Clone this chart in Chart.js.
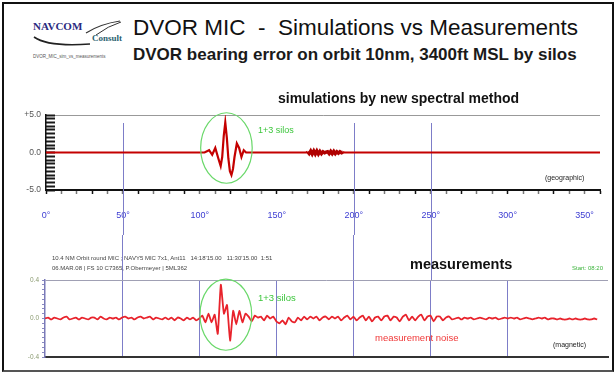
<!DOCTYPE html>
<html>
<head>
<meta charset="utf-8">
<script src="https://cdn.jsdelivr.net/npm/chart.js@4/dist/chart.umd.min.js"></script>
<style>
  html, body { margin: 0; padding: 0; background: #fff; }
  body { width: 616px; height: 382px; position: relative; overflow: hidden;
         font-family: 'Liberation Sans', Arial, sans-serif; }
  #frame { position: absolute; left: 2px; top: 2px; width: 608px; height: 366px;
           border: 2px solid #111; border-bottom-color: #555; }
  canvas { position: absolute; left: 0; }
  .txt { position: absolute; line-height: 1; white-space: pre; z-index: 5; }
</style>
</head>
<body>
<div id="frame"></div>

<!-- logo -->
<svg style="position:absolute;left:0;top:0;z-index:5" width="130" height="70">
  <path d="M34 37 Q48 47 90 44" fill="none" stroke="#222" stroke-width="1.6"/>
  <path d="M86 33 Q100 24 120 21" fill="none" stroke="#333" stroke-width="1.2"/>
  <path d="M96 35 Q108 26 121 22" fill="none" stroke="#333" stroke-width="1"/>
</svg>
<div class="txt" style="left:33px;top:20px;font:bold 11px 'Liberation Serif',serif;color:#2b2b80">NAVCOM</div>
<div class="txt" style="left:92px;top:33px;font:bold 9px 'Liberation Serif',serif;color:#2a5f70">Consult</div>
<div class="txt" style="left:33px;top:55px;font-size:4.5px;color:#555">DVOR_MIC_sim_vs_measurements</div>

<div class="txt" style="left:133px;top:17px;font-size:22.5px;color:#111">DVOR MIC  -  Simulations vs Measurements</div>
<div class="txt" style="left:133px;top:46px;font-size:17px;font-weight:bold;color:#1a1a1a">DVOR bearing error on orbit 10nm, 3400ft MSL by silos</div>
<div class="txt" style="left:278px;top:91px;font-size:14px;font-weight:bold;color:#111">simulations by new spectral method</div>

<canvas id="simChart" width="616" height="135" style="top:100px"></canvas>
<canvas id="measChart" width="616" height="137" style="top:235px"></canvas>

<div class="txt" style="left:258px;top:126px;font-size:9px;color:#3cc63c">1+3 silos</div>
<div class="txt" style="left:545px;top:174px;font-size:7px;color:#222">(geographic)</div>

<div class="txt" style="left:52px;top:255px;font-size:6px;color:#444">10.4 NM Orbit round MIC ; NAVY5 MIC 7x1, Ant11   14:18'15.00   11:30'15.00  1:51</div>
<div class="txt" style="left:52px;top:265px;font-size:6px;color:#444">06.MAR.08 | FS 10 C7365, P.Obermeyer | 5ML362</div>
<div class="txt" style="left:410px;top:257px;font-size:14.5px;font-weight:bold;color:#111">measurements</div>
<div class="txt" style="left:572px;top:265px;font-size:6px;color:#3cb43c">Start: 08:20</div>
<div class="txt" style="left:258px;top:293px;font-size:9.5px;color:#3cc63c">1+3 silos</div>
<div class="txt" style="left:375px;top:333px;font-size:9.5px;color:#f03838">measurement noise</div>
<div class="txt" style="left:553px;top:341px;font-size:7px;color:#222">(magnetic)</div>

<script>
// bearing error from the spectral simulation, degrees of bearing vs orbit angle
const simDeg = [0, 20, 40, 60, 80, 100, 103, 106, 108, 110, 112,
  113.5, 114.5, 115.5, 116.5, 117.5, 118.5, 119.5, 120.5, 121.5, 122.5, 124, 125.5, 127, 128.5, 130,
  133, 140, 160, 169,
  170, 171, 172, 173, 174, 175, 176, 177, 178, 179, 180, 181, 182,
  183, 184, 185, 186, 187, 188, 189, 190, 191, 192, 193,
  194, 220, 260, 300, 340, 360];
const simErr = [0, 0, 0, 0, 0, 0, 0, 0.3, -0.3, 0.6, -0.8,
  -1.8, -0.6, 2.2, 4.0, 2.0, -0.8, -2.5, -3.0, -2.2, -0.6, 1.2, 0.6, -0.6, 0.3, 0,
  0, 0, 0, 0,
  0.1, -0.15, 0.2, -0.2, 0.2, -0.2, 0.2, -0.2, 0.15, -0.15, 0.1, -0.05, 0.05,
  0.1, -0.15, 0.15, -0.15, 0.15, -0.15, 0.1, -0.1, 0.1, -0.05, 0.05,
  0, 0, 0, 0, 0, 0];
// angle span where the simulated trace thickens into a band
const simBandDeg = [169.5, 193.5];

// flight measurement, orbit angle (magnetic) and bearing error
const measDeg = [
  0, 2, 4, 6, 8, 10, 12, 14, 16, 18,
  20, 22, 24, 26, 28, 30, 32, 34, 36, 38,
  40, 42, 44, 46, 48, 50, 52, 54, 56, 58,
  60, 62, 64, 66, 68, 70, 72, 74, 76, 78,
  80, 82, 84, 86, 88, 90, 92, 94, 96, 98,
  100, 102, 104, 106, 108, 110, 112, 114, 116, 118,
  120, 122, 124, 126, 128, 130, 132, 134, 136, 138,
  140, 142, 144, 146, 148, 150, 152, 154, 156, 158,
  160, 162, 164, 166, 168, 170, 172, 174, 176, 178,
  180, 182, 184, 186, 188, 190, 192, 194, 196, 198,
  200, 202, 204, 206, 208, 210, 212, 214, 216, 218,
  220, 222, 224, 226, 228, 230, 232, 234, 236, 238,
  240, 242, 244, 246, 248, 250, 252, 254, 256, 258,
  260, 262, 264, 266, 268, 270, 272, 274, 276, 278,
  280, 282, 284, 286, 288, 290, 292, 294, 296, 298,
  300, 302, 304, 306, 308, 310, 312, 314, 316, 318,
  320, 322, 324, 326, 328, 330, 332, 334, 336, 338,
  340, 342, 344, 346, 348, 350, 352, 354, 356, 358];
const measErr = [
  0.00, 0.01, -0.01, 0.01, 0.00, -0.01, 0.01, 0.02, -0.01, 0.00,
  0.01, -0.01, 0.01, 0.00, -0.01, 0.01, 0.01, -0.01, 0.02, 0.00,
  -0.01, 0.01, 0.00, 0.01, -0.01, 0.01, 0.02, 0.00, 0.01, -0.01,
  0.01, 0.02, 0.00, 0.01, 0.02, -0.01, 0.01, 0.00, -0.01, 0.01,
  -0.01, 0.01, -0.02, 0.01, 0.00, -0.02, 0.01, -0.01, 0.01, -0.02,
  0.00, 0.03, -0.04, 0.05, -0.04, 0.04, -0.16, 0.35, 0.05, 0.14,
  -0.23, 0.08, -0.06, 0.08, -0.04, 0.05, 0.02, -0.03, 0.03, 0.01,
  0.02, -0.02, 0.03, 0.00, 0.02, -0.03, -0.05, -0.02, -0.06, 0.01,
  -0.03, -0.04, 0.01, -0.02, 0.02, -0.01, 0.02, 0.00, 0.02, -0.02,
  0.01, 0.02, -0.01, 0.02, 0.00, 0.02, -0.02, 0.01, 0.03, -0.01,
  0.02, -0.02, 0.01, 0.03, -0.02, 0.02, -0.03, 0.01, 0.02, -0.02,
  0.02, 0.03, -0.02, 0.02, 0.01, -0.03, 0.02, 0.04, -0.02, 0.02,
  -0.02, 0.02, 0.04, -0.02, 0.02, 0.03, -0.03, 0.02, 0.02, -0.02,
  0.01, 0.02, -0.01, 0.00, 0.01, -0.01, 0.01, 0.00, 0.01, -0.01,
  0.00, 0.01, 0.00, -0.01, 0.01, 0.00, 0.01, -0.01, 0.00, 0.01,
  0.00, 0.01, 0.00, 0.01, -0.01, 0.00, 0.01, 0.00, -0.01, 0.00,
  0.01, 0.00, 0.01, -0.01, 0.00, 0.00, -0.01, 0.00, -0.01, -0.01,
  0.00, -0.01, 0.00, -0.01, -0.01, 0.00, -0.01, -0.01, 0.00, -0.01];

// angle labels and the marker lines that run through both panels
const angleLabelStep = 50;
const crossDegrees = [50, 200, 250];

// ring around the silo effect (angle span, error span)
const simRingDeg = [100.5, 134];
const simRingErr = [-4.1, 5.3];
const measRingDeg = [100.5, 134];
const measRingErr = [-0.33, 0.41];

const CLEAR = 'rgba(0,0,0,0)';
const near = (a, b) => Math.abs(a - b) < 1e-6;

Chart.defaults.font.family = "'Liberation Sans', Arial, sans-serif";

const toPoints = (xs, ys) => xs.map((x, i) => ({ x: x, y: ys[i] }));

// vertical marker lines continuing outside the plot area
const crossLines = {
  id: 'crossLines',
  beforeDatasetsDraw(chart, args, opts) {
    const { ctx, chartArea, scales } = chart;
    ctx.save();
    ctx.strokeStyle = opts.color;
    ctx.lineWidth = 1;
    opts.degrees.forEach(d => {
      const x = Math.round(scales.x.getPixelForValue(d)) + 0.5;
      ctx.beginPath();
      if (opts.below) {
        ctx.moveTo(x, chartArea.top + 8);
        ctx.lineTo(x, chart.height);
      } else {
        ctx.moveTo(x, 0);
        ctx.lineTo(x, chartArea.top);
      }
      ctx.stroke();
    });
    ctx.restore();
  }
};

// green ellipse around the silo disturbance
const silosRing = {
  id: 'silosRing',
  afterDatasetsDraw(chart, args, opts) {
    const { ctx, scales } = chart;
    const x0 = scales.x.getPixelForValue(opts.deg[0]);
    const x1 = scales.x.getPixelForValue(opts.deg[1]);
    const y0 = scales.y.getPixelForValue(opts.err[1]);
    const y1 = scales.y.getPixelForValue(opts.err[0]);
    ctx.save();
    ctx.strokeStyle = '#6ad86a';
    ctx.lineWidth = 1.2;
    ctx.beginPath();
    ctx.ellipse((x0 + x1) / 2, (y0 + y1) / 2, (x1 - x0) / 2, (y1 - y0) / 2, 0, 0, Math.PI * 2);
    ctx.stroke();
    ctx.restore();
  }
};

new Chart(document.getElementById('simChart'), {
  type: 'line',
  data: {
    datasets: [{
      data: toPoints(simDeg, simErr),
      borderColor: '#c40000',
      borderWidth: 2.2,
      pointRadius: 0,
      tension: 0,
      segment: {
        borderWidth: c => (c.p0.parsed.x >= simBandDeg[0] && c.p1.parsed.x <= simBandDeg[1]) ? 3.4 : 2.2,
        borderColor: c => (c.p0.parsed.x >= simBandDeg[0] && c.p1.parsed.x <= simBandDeg[1]) ? '#b00000' : '#c40000'
      }
    }]
  },
  plugins: [crossLines, silosRing],
  options: {
    responsive: false,
    animation: false,
    devicePixelRatio: 1,
    layout: { padding: { left: 0, right: 16, top: 15, bottom: 10 } },
    plugins: {
      legend: { display: false },
      tooltip: { enabled: false },
      crossLines: { degrees: crossDegrees, color: '#7d7dc8', below: true },
      silosRing: { deg: simRingDeg, err: simRingErr }
    },
    scales: {
      x: {
        type: 'linear', min: 0, max: 360,
        afterFit(s) { s.height = 35; },
        border: { color: '#111', width: 2 },
        grid: {
          drawOnChartArea: false,
          tickLength: 4,
          tickWidth: 1.5,
          tickColor: c => (c.tick && c.tick.value % 30 === 0) ? '#111' : '#777'
        },
        ticks: {
          stepSize: 10, autoSkip: false, maxRotation: 0, padding: 16,
          color: '#3c3cd2', font: { size: 9 },
          callback: v => (v % angleLabelStep === 0 && v < 360) ? v + '°' : ''
        }
      },
      y: {
        min: -5, max: 5,
        afterFit(s) { s.width = 46; },
        border: { color: '#111', width: 1.5 },
        grid: {
          color: c => (c.tick && near(c.tick.value, 5)) ? '#999' : CLEAR,
          drawTicks: false
        },
        ticks: {
          stepSize: 5, autoSkip: false, padding: 5,
          color: '#555', font: { size: 8.5 },
          callback: v => near(v, 5) ? '+5.0' : near(v, 0) ? '0.0' : near(v, -5) ? '-5.0' : ''
        }
      },
      // comb of tick marks on the inside of the error axis
      yComb: {
        axis: 'y',
        position: { x: 0 },
        min: -5, max: 5,
        border: { display: false },
        grid: {
          drawOnChartArea: false,
          tickLength: -9,
          tickWidth: 2,
          tickColor: '#1a1a1a'
        },
        ticks: { stepSize: 0.5, autoSkip: false, display: false }
      }
    }
  }
});

new Chart(document.getElementById('measChart'), {
  type: 'line',
  data: {
    datasets: [{
      data: toPoints(measDeg, measErr),
      borderColor: '#e8232c',
      borderWidth: 1.8,
      pointRadius: 0,
      tension: 0.15
    }]
  },
  plugins: [crossLines, silosRing],
  options: {
    responsive: false,
    animation: false,
    devicePixelRatio: 1,
    layout: { padding: { left: 0, right: 8, top: 45, bottom: 10 } },
    plugins: {
      legend: { display: false },
      tooltip: { enabled: false },
      crossLines: { degrees: crossDegrees, color: '#7d7dc8', below: false },
      silosRing: { deg: measRingDeg, err: measRingErr }
    },
    scales: {
      x: {
        type: 'linear', min: 0, max: 365,
        afterFit(s) { s.height = 5; },
        border: { color: '#333', width: 2 },
        grid: {
          color: c => (c.tick && c.tick.value > 0 && c.tick.value <= 350 && c.tick.value % angleLabelStep === 0) ? '#7d7dc8' : CLEAR,
          drawTicks: false
        },
        ticks: { stepSize: 50, display: false }
      },
      y: {
        min: -0.4, max: 0.4,
        afterFit(s) { s.width = 45; },
        border: { color: '#7a7ab8', width: 1.5 },
        grid: {
          color: c => (c.tick && near(c.tick.value, 0.4)) ? '#a0a0b4' : CLEAR,
          tickColor: '#8a8ac0',
          tickLength: 3
        },
        ticks: {
          stepSize: 0.05, autoSkip: false, padding: 3,
          color: '#8a9a70', font: { size: 6.5 },
          callback: v => near(v, 0.4) ? '0.4' : near(v, 0) ? '0.0' : near(v, -0.4) ? '-0.4' : ''
        }
      }
    }
  }
});
</script>
</body>
</html>
